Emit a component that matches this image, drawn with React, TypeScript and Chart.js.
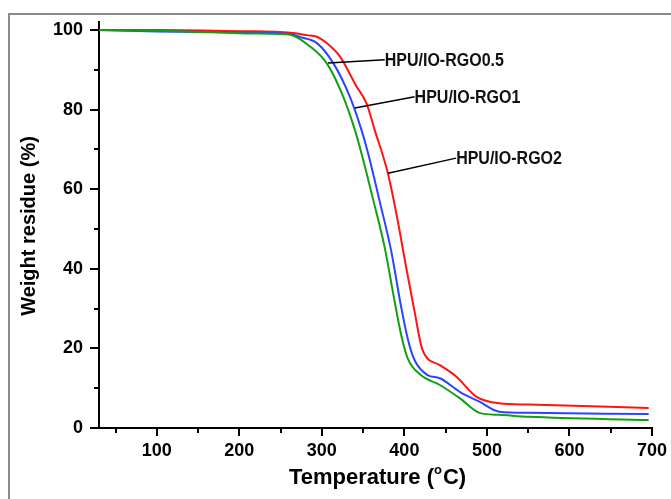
import React, { useEffect, useRef } from "react";
import { Chart, registerables } from "chart.js";

Chart.register(...registerables);

// HPU/IO-RGO0.5 (green)
const tempGreen = [30, 100, 150, 200, 250, 262, 286, 306, 326, 340, 348, 362, 376, 388, 396, 404, 420, 443, 467, 491, 515, 551, 696];
const weightGreen = [100, 99.8, 99.5, 99.2, 99.0, 98.8, 95.8, 91.6, 83.2, 74.9, 69, 57.5, 45.5, 32, 23.5, 17.5, 13.3, 10.8, 7.5, 3.8, 3.3, 2.8, 2.0];

// HPU/IO-RGO1 (blue)
const tempBlue = [30, 100, 200, 262, 274, 294, 314, 334, 348, 356, 370, 384, 396, 404, 412, 428, 443, 467, 491, 515, 551, 696];
const weightBlue = [100, 99.6, 99.4, 99.0, 98.2, 96.7, 91.6, 83.2, 74.9, 69, 57, 44.5, 30.5, 22.5, 17.2, 13.3, 12.5, 9.1, 6.6, 4.1, 3.8, 3.5];

// HPU/IO-RGO2 (red)
const tempRed = [30, 100, 200, 262, 282, 294, 306, 322, 342, 354, 364, 380, 392, 402, 412, 422, 443, 463, 487, 515, 551, 696];
const weightRed = [100, 100, 99.7, 99.3, 98.7, 98.3, 96.7, 93.3, 85.8, 81.6, 74.9, 64, 52, 40.5, 29.6, 19.6, 15.8, 12.9, 7.9, 6.2, 5.9, 5.0];

const seriesNames = ["HPU/IO-RGO0.5", "HPU/IO-RGO1", "HPU/IO-RGO2"];

// annotation leader lines: anchor on curve -> start of label
const annAnchorT = [307.5, 340, 380.2];
const annAnchorW = [91.7, 80.4, 64];
const annTextT = [376.2, 412.4, 462.7];
const annTextW = [92.5, 83.2, 67.8];

const xMajorTicks = [100, 200, 300, 400, 500, 600, 700];
const xMinorTicks = [50, 150, 250, 350, 450, 550, 650];
const yMajorTicks = [0, 20, 40, 60, 80, 100];
const yMinorTicks = [10, 30, 50, 70, 90];

const xTitleMain = "Temperature (";
const xTitleSup = "o";
const xTitleEnd = "C)";
const yTitle = "Weight residue (%)";

const FONT = "'Liberation Sans', Arial, sans-serif";

function toPoints(xs: number[], ys: number[]) {
  return xs.map((x, i) => ({ x, y: ys[i] }));
}

const customPlugin = {
  id: "customDecor",
  beforeDraw(chart: any) {
    const { ctx, width, height } = chart;
    ctx.save();
    ctx.fillStyle = "#ffffff";
    ctx.fillRect(0, 0, width, height);
    ctx.strokeStyle = "#8a8a8a";
    ctx.lineWidth = 2;
    ctx.beginPath();
    ctx.moveTo(9, height);
    ctx.lineTo(9, 14);
    ctx.lineTo(width, 14);
    ctx.stroke();
    ctx.restore();
  },
  afterDraw(chart: any) {
    const { ctx, chartArea } = chart;
    const xs = chart.scales.x;
    const ys = chart.scales.y;
    ctx.save();
    // minor ticks
    ctx.strokeStyle = "#000";
    ctx.lineWidth = 2;
    ctx.beginPath();
    xMinorTicks.forEach((v) => {
      const px = Math.round(xs.getPixelForValue(v));
      ctx.moveTo(px, chartArea.bottom);
      ctx.lineTo(px, chartArea.bottom + 5);
    });
    yMinorTicks.forEach((v) => {
      const py = Math.round(ys.getPixelForValue(v));
      ctx.moveTo(chartArea.left, py);
      ctx.lineTo(chartArea.left - 5, py);
    });
    ctx.stroke();

    // annotation lines and labels
    ctx.lineWidth = 1.5;
    for (let i = 0; i < seriesNames.length; i++) {
      const ax = xs.getPixelForValue(annAnchorT[i]);
      const ay = ys.getPixelForValue(annAnchorW[i]);
      const tx = xs.getPixelForValue(annTextT[i]);
      const ty = ys.getPixelForValue(annTextW[i]);
      ctx.beginPath();
      ctx.moveTo(ax, ay);
      ctx.lineTo(tx, ty);
      ctx.stroke();
      ctx.save();
      ctx.translate(tx, ty + 1);
      ctx.scale(1, 1.18);
      ctx.fillStyle = "#111";
      ctx.font = `bold 16px ${FONT}`;
      ctx.textAlign = "left";
      ctx.textBaseline = "middle";
      ctx.fillText(seriesNames[i], 0, 0);
      ctx.restore();
    }

    // y title
    ctx.save();
    ctx.translate(29, 226);
    ctx.rotate(-Math.PI / 2);
    ctx.font = `bold 20px ${FONT}`;
    ctx.fillStyle = "#000";
    ctx.textAlign = "center";
    ctx.textBaseline = "middle";
    ctx.fillText(yTitle, 0, 0);
    ctx.restore();

    // x title with superscript
    ctx.fillStyle = "#000";
    ctx.textBaseline = "alphabetic";
    ctx.textAlign = "left";
    const mainFont = `bold 22px ${FONT}`;
    const supFont = `bold 13px ${FONT}`;
    ctx.font = mainFont;
    const w1 = ctx.measureText(xTitleMain).width;
    const w3 = ctx.measureText(xTitleEnd).width;
    ctx.font = supFont;
    const w2 = ctx.measureText(xTitleSup).width + 1;
    const total = w1 + w2 + w3;
    const cx = (chartArea.left + chartArea.right) / 2 + 2;
    const baseY = 484;
    const x0 = cx - total / 2;
    ctx.font = mainFont;
    ctx.fillText(xTitleMain, x0, baseY);
    ctx.font = supFont;
    ctx.fillText(xTitleSup, x0 + w1, baseY - 10);
    ctx.font = mainFont;
    ctx.fillText(xTitleEnd, x0 + w1 + w2, baseY);
    ctx.restore();
  },
};

export default function App() {
  const canvasRef = useRef<HTMLCanvasElement | null>(null);

  useEffect(() => {
    if (!canvasRef.current) return;
    const chart = new Chart(canvasRef.current, {
      type: "line",
      data: {
        datasets: [
          {
            label: seriesNames[0],
            data: toPoints(tempGreen, weightGreen),
            borderColor: "#12a012",
            borderWidth: 2,
            pointRadius: 0,
            cubicInterpolationMode: "monotone",
            fill: false,
          },
          {
            label: seriesNames[1],
            data: toPoints(tempBlue, weightBlue),
            borderColor: "#2a45ff",
            borderWidth: 2,
            pointRadius: 0,
            cubicInterpolationMode: "monotone",
            fill: false,
          },
          {
            label: seriesNames[2],
            data: toPoints(tempRed, weightRed),
            borderColor: "#ff1414",
            borderWidth: 2,
            pointRadius: 0,
            cubicInterpolationMode: "monotone",
            fill: false,
          },
        ],
      },
      options: {
        responsive: false,
        animation: false,
        layout: { padding: { top: 22, right: 18, left: 0, bottom: 0 } },
        plugins: {
          legend: { display: false },
          tooltip: { enabled: false },
        },
        scales: {
          x: {
            type: "linear",
            min: 30,
            max: 700,
            afterFit: (s: any) => {
              s.height = 71;
            },
            afterBuildTicks: (s: any) => {
              s.ticks = xMajorTicks.map((v) => ({ value: v }));
            },
            ticks: {
              includeBounds: false,
              stepSize: 100,
              color: "#000",
              padding: 4,
              maxRotation: 0,
              font: { family: FONT, size: 18, weight: "bold" },
            },
            grid: {
              display: true,
              drawOnChartArea: false,
              drawTicks: true,
              tickLength: 8,
              color: "#000",
              lineWidth: 2,
            },
            border: { display: true, color: "#000", width: 2 },
          },
          y: {
            type: "linear",
            min: 0,
            max: 102,
            afterFit: (s: any) => {
              s.width = 99;
            },
            afterBuildTicks: (s: any) => {
              s.ticks = yMajorTicks.map((v) => ({ value: v }));
            },
            ticks: {
              includeBounds: false,
              stepSize: 20,
              color: "#000",
              padding: 7,
              font: { family: FONT, size: 18, weight: "bold" },
            },
            grid: {
              display: true,
              drawOnChartArea: false,
              drawTicks: true,
              tickLength: 9,
              color: "#000",
              lineWidth: 2,
            },
            border: { display: true, color: "#000", width: 2 },
          },
        },
      },
      plugins: [customPlugin],
    } as any);
    return () => chart.destroy();
  }, []);

  return (
    <div style={{ position: "fixed", left: 0, top: 0, width: 671, height: 499, background: "#fff" }}>
      <canvas ref={canvasRef} width={671} height={499} style={{ width: 671, height: 499, display: "block" }} />
    </div>
  );
}
